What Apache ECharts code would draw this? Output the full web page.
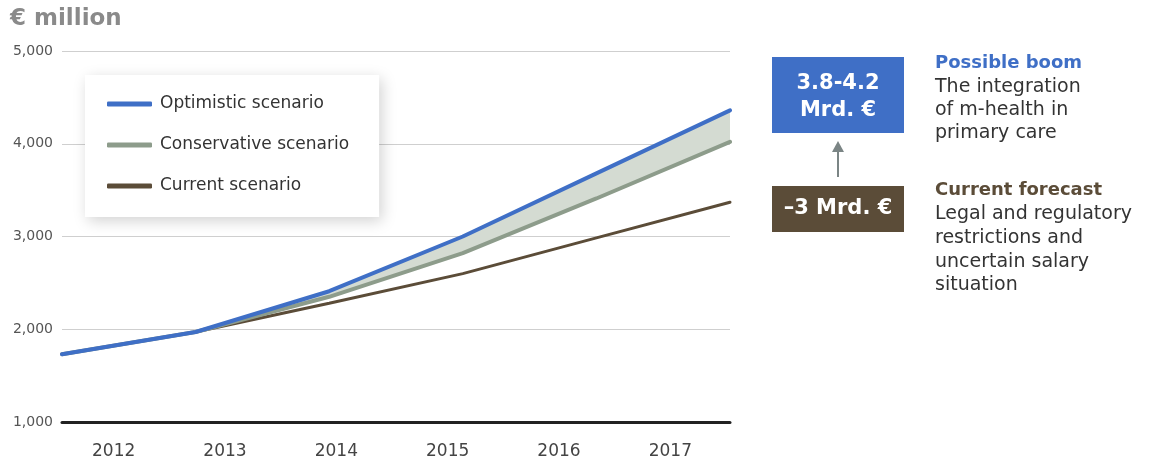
<!DOCTYPE html>
<html>
<head>
<meta charset="utf-8">
<title>m-health market scenarios</title>
<script src="https://cdn.jsdelivr.net/npm/echarts@6/dist/echarts.min.js"></script>
<style>
	html, body { margin: 0; padding: 0; background: #fff; }
	#chartDiv { width: 1153px; height: 466px; }
</style>
</head>
<body>
<div id="chartDiv"></div>
<script>
// years on the axis
var years = ['2012', '2013', '2014', '2015', '2016', '2017'];
// € million
var optimistic = [1730, 1970, 2410, 3000, 3680, 4360];
var conservative = [1730, 1970, 2350, 2820, 3410, 4020];
var current = [1730, 1970, 2280, 2600, 2985, 3370];
var yTicks = [1000, 2000, 3000, 4000, 5000];

var boomRange = ['3.8-4.2', 'Mrd. €'];
var boomTitle = 'Possible boom';
var boomText = ['The integration', 'of m-health in', 'primary care'];
var currentRange = '–3 Mrd. €';
var currentTitle = 'Current forecast';
var currentText = ['Legal and regulatory', 'restrictions and', 'uncertain salary', 'situation'];

var BLUE = '#3f6fc6';
var GREEN = '#8d9c8b';
var BROWN = '#5b4c38';
var FONT = '"DejaVu Sans", sans-serif';

var chart;

function fmt(v) {
	return String(v).replace(/\B(?=(\d{3})+(?!\d))/g, ',');
}

function textLines(lines, x, y0, step, font, fill) {
	var res = [];
	for (var i = 0; i < lines.length; i++) {
		res.push({
			type: 'text',
			x: x,
			y: y0 + i * step,
			style: { text: lines[i], font: font, fill: fill, verticalAlign: 'middle' }
		});
	}
	return res;
}

function showChart() {
	if (!chart) {
		chart = echarts.init(document.getElementById('chartDiv'));
	}

	var band = [];
	for (var i = 0; i < optimistic.length; i++) {
		band.push(optimistic[i] - conservative[i]);
	}

	var graphic = [
		{
			type: 'text', x: 10, y: 19,
			style: { text: '€ million', font: 'bold 23px ' + FONT, fill: '#8a8a8a', verticalAlign: 'middle' }
		},
		// boom box
		{
			type: 'rect', left: 772, top: 57,
			shape: { width: 132, height: 76 },
			style: { fill: BLUE }
		},
		{
			type: 'text', x: 838, y: 84,
			style: { text: boomRange[0], font: 'bold 21px ' + FONT, fill: '#fff', align: 'center', verticalAlign: 'middle' }
		},
		{
			type: 'text', x: 838, y: 111,
			style: { text: boomRange[1], font: 'bold 21px ' + FONT, fill: '#fff', align: 'center', verticalAlign: 'middle' }
		},
		// arrow
		{
			type: 'line',
			shape: { x1: 838, y1: 177, x2: 838, y2: 150 },
			style: { stroke: '#7b8585', lineWidth: 2 }
		},
		{
			type: 'polygon',
			shape: { points: [[838, 141], [832, 152], [844, 152]] },
			style: { fill: '#7b8585' }
		},
		// current box
		{
			type: 'rect', left: 772, top: 186,
			shape: { width: 132, height: 46 },
			style: { fill: BROWN }
		},
		{
			type: 'text', x: 838, y: 209,
			style: { text: currentRange, font: 'bold 21px ' + FONT, fill: '#fff', align: 'center', verticalAlign: 'middle' }
		}
	];
	graphic = graphic.concat(textLines([boomTitle], 935, 63, 0, 'bold 18px ' + FONT, BLUE));
	graphic = graphic.concat(textLines(boomText, 935, 87, 23.2, '19px ' + FONT, '#333'));
	graphic = graphic.concat(textLines([currentTitle], 935, 190, 0, 'bold 18px ' + FONT, BROWN));
	graphic = graphic.concat(textLines(currentText, 935, 214, 23.8, '19px ' + FONT, '#333'));

	var option = {
		animation: false,
		textStyle: { fontFamily: FONT },
		grid: {
			left: 62,
			right: 423,
			top: 51,
			bottom: 44
		},
		legend: {
			orient: 'vertical',
			left: 85,
			top: 75,
			data: ['Optimistic scenario', 'Conservative scenario', 'Current scenario'],
			icon: 'roundRect',
			itemWidth: 45,
			itemHeight: 5,
			itemGap: 21,
			padding: [19, 30, 21, 22],
			backgroundColor: '#fff',
			shadowColor: 'rgba(0,0,0,0.18)',
			shadowBlur: 14,
			shadowOffsetX: 3,
			shadowOffsetY: 4,
			selectedMode: false,
			textStyle: {
				color: '#333',
				fontSize: 17,
				lineHeight: 20,
				padding: [0, 0, 0, 3]
			}
		},
		xAxis: [
			{
				type: 'category',
				data: years,
				boundaryGap: false,
				axisLine: { show: false },
				axisTick: { show: false },
				axisLabel: { show: false },
				splitLine: { show: false }
			},
			{
				type: 'category',
				data: years,
				boundaryGap: true,
				position: 'bottom',
				axisLine: {
					show: true,
					lineStyle: { color: '#222', width: 3 }
				},
				axisTick: { show: false },
				axisLabel: {
					color: '#444',
					fontSize: 17,
					margin: 21,
					padding: [0, 8, 0, 0]
				},
				splitLine: { show: false }
			}
		],
		yAxis: {
			type: 'value',
			min: yTicks[0],
			max: yTicks[yTicks.length - 1],
			interval: 1000,
			axisLine: { show: false },
			axisTick: { show: false },
			axisLabel: {
				color: '#555',
				fontSize: 14,
				margin: 9,
				formatter: function (v) { return fmt(v); }
			},
			splitLine: {
				lineStyle: { color: '#cfcfcf', width: 1 }
			}
		},
		series: [
			{
				name: 'band-base',
				type: 'line',
				stack: 'band',
				data: conservative,
				symbol: 'none',
				lineStyle: { width: 0, opacity: 0 },
				silent: true
			},
			{
				name: 'band',
				type: 'line',
				stack: 'band',
				data: band,
				symbol: 'none',
				lineStyle: { width: 0, opacity: 0 },
				areaStyle: { color: '#d4dbd2', opacity: 1 },
				silent: true
			},
			{
				name: 'Current scenario',
				type: 'line',
				data: current,
				symbol: 'none',
				color: BROWN,
				lineStyle: { color: BROWN, width: 3, cap: 'round' }
			},
			{
				name: 'Conservative scenario',
				type: 'line',
				data: conservative,
				symbol: 'none',
				color: GREEN,
				lineStyle: { color: GREEN, width: 4, cap: 'round' }
			},
			{
				name: 'Optimistic scenario',
				type: 'line',
				data: optimistic,
				symbol: 'none',
				color: BLUE,
				lineStyle: { color: BLUE, width: 4, cap: 'round' }
			}
		],
		graphic: graphic
	};

	chart.setOption(option, true);
}

showChart();
</script>
</body>
</html>
